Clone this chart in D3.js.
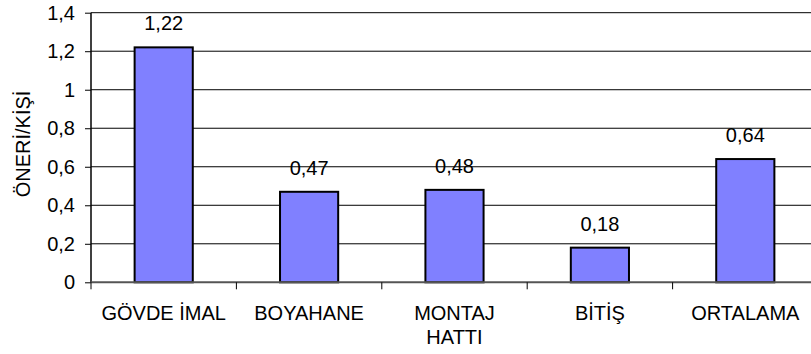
<!DOCTYPE html>
<html>
<head>
<meta charset="utf-8">
<script src="https://cdn.jsdelivr.net/npm/d3@7"></script>
<style>
  html, body { margin: 0; padding: 0; background: #fff; }
  svg { display: block; font-family: "Liberation Sans", Arial, sans-serif; }
</style>
</head>
<body>
<svg id="chart" width="811" height="354"></svg>
<script>
// Suggestions per person, by department
const categories = ["GÖVDE İMAL", "BOYAHANE", "MONTAJ HATTI", "BİTİŞ", "ORTALAMA"];
const categoryLines = [["GÖVDE İMAL"], ["BOYAHANE"], ["MONTAJ", "HATTI"], ["BİTİŞ"], ["ORTALAMA"]];
const values = [1.22, 0.47, 0.48, 0.18, 0.64];
const valueLabels = ["1,22", "0,47", "0,48", "0,18", "0,64"];
const yTicks = [0, 0.2, 0.4, 0.6, 0.8, 1, 1.2, 1.4];
const yTickLabels = ["0", "0,2", "0,4", "0,6", "0,8", "1", "1,2", "1,4"];
const yTitle = "ÖNERİ/KİŞİ";

const FONT = 20;
const svg = d3.select("#chart");
const plotLeft = 91, plotRight = 818, plotTop = 12.7, plotBottom = 282.3;

const x = d3.scaleBand().domain(categories).range([plotLeft, plotRight]).paddingInner(0.6).paddingOuter(0.3);
const y = d3.scaleLinear().domain([0, 1.4]).range([plotBottom, plotTop]);
const step = x.step();

// horizontal gridlines
svg.append("g").selectAll("line").data(yTicks.filter(d => d > 0)).join("line")
  .attr("x1", plotLeft).attr("x2", plotRight)
  .attr("y1", d => y(d)).attr("y2", d => y(d))
  .attr("stroke", "#000").attr("stroke-width", 1);

// bars
svg.append("g").selectAll("rect").data(values).join("rect")
  .attr("x", (d, i) => x(categories[i]))
  .attr("y", d => y(d))
  .attr("width", x.bandwidth())
  .attr("height", d => plotBottom - y(d))
  .attr("fill", "#8080ff")
  .attr("stroke", "#000")
  .attr("stroke-width", 2);

// value labels
svg.append("g").selectAll("text").data(values).join("text")
  .attr("x", (d, i) => x(categories[i]) + x.bandwidth() / 2)
  .attr("y", d => y(d) - 17)
  .attr("text-anchor", "middle")
  .attr("font-size", FONT)
  .attr("fill", "#000")
  .text((d, i) => valueLabels[i]);

// y axis
const yAxis = d3.axisLeft(y).tickValues(yTicks).tickFormat((d, i) => yTickLabels[i]).tickSize(6).tickPadding(10);
const gy = svg.append("g").attr("transform", `translate(${plotLeft},0)`).call(yAxis)
  .attr("font-size", FONT).attr("font-family", null);
gy.select(".domain").attr("stroke", "#000").attr("stroke-width", 1.5).attr("d", `M0,${plotTop}V${plotBottom}`);
gy.selectAll(".tick line").attr("stroke", "#000");
gy.selectAll(".tick text").attr("fill", "#000");

// x axis baseline and category separators
svg.append("line").attr("x1", plotLeft).attr("x2", plotRight).attr("y1", plotBottom).attr("y2", plotBottom)
  .attr("stroke", "#555").attr("stroke-width", 2);
svg.append("g").selectAll("line").data(d3.range(categories.length + 1)).join("line")
  .attr("x1", i => plotLeft + i * step).attr("x2", i => plotLeft + i * step)
  .attr("y1", plotBottom).attr("y2", plotBottom + 7)
  .attr("stroke", "#000");

// category labels
const cat = svg.append("g").selectAll("text").data(categoryLines).join("text")
  .attr("x", (d, i) => x(categories[i]) + x.bandwidth() / 2)
  .attr("y", 320)
  .attr("text-anchor", "middle")
  .attr("font-size", FONT)
  .attr("fill", "#000");
cat.selectAll("tspan").data(d => d).join("tspan")
  .attr("x", function () { return d3.select(this.parentNode).attr("x"); })
  .attr("dy", (d, i) => i === 0 ? 0 : 24)
  .text(d => d);

// y axis title
svg.append("text")
  .attr("transform", `translate(30,144) rotate(-90)`)
  .attr("text-anchor", "middle")
  .attr("font-size", FONT)
  .attr("fill", "#000")
  .text(yTitle);
</script>
</body>
</html>
